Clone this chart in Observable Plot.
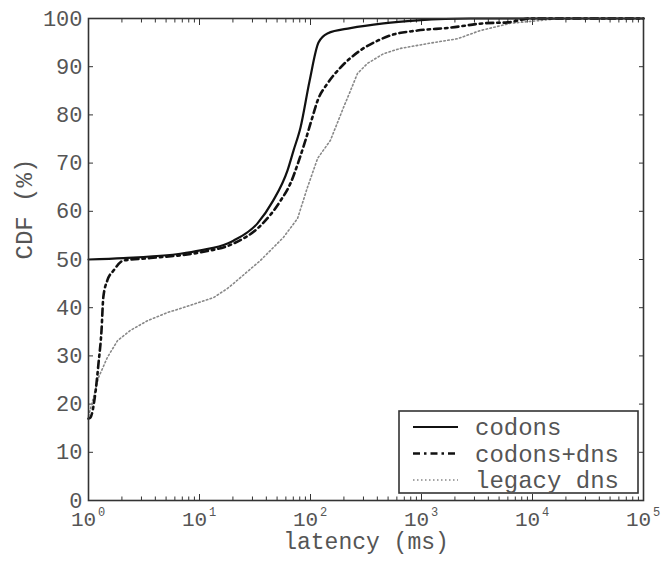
<!DOCTYPE html>
<html>
<head>
<meta charset="utf-8">
<script src="https://cdn.jsdelivr.net/npm/d3@7"></script>
<script src="https://cdn.jsdelivr.net/npm/@observablehq/plot@0.6"></script>
<style>
  html, body { margin: 0; padding: 0; background: #fff; }
  #wrap { position: relative; width: 666px; height: 563px; }
  #legend { position: absolute; left: 398px; top: 410px; }
</style>
</head>
<body>
<div id="wrap"></div>
<script>
// ---- data (latency in ms, CDF in %) ----
const codonsLatency = [1, 2.07, 6.7, 10.2, 17.9, 20.2, 33.3, 45.5, 62.1, 70.3, 81.3, 98, 118, 142, 229, 455, 920, 2760, 100000];
const codonsCdf     = [50, 50.3, 51.2, 51.9, 53.3, 53.9, 57.5, 62, 68.5, 72.6, 77.4, 87, 95, 96.9, 98, 99, 99.6, 100, 100];

const codonsDnsLatency = [1, 1.04, 1.16, 1.23, 1.31, 1.36, 1.48, 1.68, 2.07, 3.62, 10.2, 20.2, 35.4, 53.7, 66, 78, 90, 104, 116, 142, 186, 282, 402, 525, 920, 1820, 3640, 5950, 9570, 100000];
const codonsDnsCdf     = [17, 17.2, 22.8, 28.4, 35.3, 42.2, 45.7, 47.7, 49.8, 50.3, 51.5, 53.3, 57, 62.2, 65.8, 70.3, 74.7, 79.5, 83, 86.5, 89.8, 93.4, 95.4, 96.5, 97.5, 98.1, 99, 99.2, 100, 100];

const legacyLatency = [1, 1.11, 1.23, 1.48, 1.83, 2.39, 3.4, 5.15, 8.3, 13.4, 17.9, 20.2, 35.4, 57.1, 76.4, 94, 116, 151, 198, 229, 265, 327, 455, 647, 1280, 2110, 3390, 6310, 17800, 100000];
const legacyCdf     = [17.5, 21.4, 25.5, 29.7, 33.2, 35.3, 37.3, 39, 40.5, 42.1, 44, 45, 49.8, 54.6, 58.5, 65, 71, 74.7, 81.5, 85, 88.6, 90.7, 92.7, 93.8, 95, 95.8, 97.5, 99, 100, 100];

const seriesNames = ["codons", "codons+dns", "legacy dns"];
const xTickValues = [1, 10, 100, 1000, 10000, 100000];
const xTickExponents = ["0", "1", "2", "3", "4", "5"];
const yTickValues = [0, 10, 20, 30, 40, 50, 60, 70, 80, 90, 100];
const xLabel = "latency (ms)";
const yLabel = "CDF (%)";

// ---- build tables ----
const toRows = (xs, ys) => xs.map((x, i) => ({x, y: ys[i]}));
const codons = toRows(codonsLatency, codonsCdf);
const codonsDns = toRows(codonsDnsLatency, codonsDnsCdf);
const legacy = toRows(legacyLatency, legacyCdf);
const xMinor = [];
for (let e = 0; e < 5; e++) for (let m = 2; m <= 9; m++) xMinor.push(m * 10 ** e);
const xTicksRows = xTickValues.map((v, i) => ({v, e: xTickExponents[i]}));

const FONT = "'Liberation Mono', 'DejaVu Sans Mono', monospace";
const TXT = "#555";
const AX = "#333";
const noLabel = () => "";

const chart = Plot.plot({
  width: 666,
  height: 563,
  marginLeft: 88,
  marginRight: 23,
  marginTop: 18,
  marginBottom: 63,
  style: {fontFamily: FONT, fontSize: "22px", color: TXT, background: "#fff"},
  x: {type: "log", domain: [1, 100000]},
  y: {domain: [0, 100]},
  marks: [
    // inward ticks
    Plot.axisX(xTickValues, {anchor: "bottom", tickSize: -6, tickFormat: noLabel, label: null, stroke: AX}),
    Plot.axisX(xTickValues, {anchor: "top", tickSize: -6, tickFormat: noLabel, label: null, stroke: AX}),
    Plot.axisX(xMinor, {anchor: "bottom", tickSize: -3.5, tickFormat: noLabel, label: null, stroke: AX}),
    Plot.axisX(xMinor, {anchor: "top", tickSize: -3.5, tickFormat: noLabel, label: null, stroke: AX}),
    Plot.axisY(yTickValues, {anchor: "left", tickSize: -5, tickFormat: noLabel, label: null, stroke: AX}),
    Plot.axisY(yTickValues, {anchor: "right", tickSize: -5, tickFormat: noLabel, label: null, stroke: AX}),
    // y tick labels
    Plot.axisY(yTickValues, {anchor: "left", tickSize: 0, tickPadding: 6, label: null, fill: TXT, fontSize: 22}),
    Plot.text([yLabel], {frameAnchor: "left", rotate: -90, dx: -64, fill: TXT, fontSize: 24}),
    // x tick labels: "10" + superscript exponent
    Plot.text(xTicksRows, {x: "v", text: () => "10", frameAnchor: "bottom", dy: 25, dx: -5, fill: TXT, fontSize: 21}),
    Plot.text(xTicksRows, {x: "v", text: "e", frameAnchor: "bottom", dy: 15, dx: 13, fill: TXT, fontSize: 12}),
    Plot.text([xLabel], {frameAnchor: "bottom", dy: 48, fill: TXT, fontSize: 23}),
    // series
    Plot.line(legacy, {x: "x", y: "y", stroke: "#888", strokeWidth: 1.6, strokeDasharray: "1.5,2.5"}),
    Plot.line(codonsDns, {x: "x", y: "y", stroke: "#111", strokeWidth: 2.6, strokeDasharray: "7,4,2.5,4", curve: "monotone-x"}),
    Plot.line(codons, {x: "x", y: "y", stroke: "#111", strokeWidth: 2.2, curve: "monotone-x"}),
    Plot.frame({stroke: AX, strokeWidth: 1.6})
  ]
});

const wrap = document.getElementById("wrap");
wrap.appendChild(chart);

// legend
const styles = [
  {stroke: "#111", w: 2.2, dash: null},
  {stroke: "#111", w: 2.6, dash: "7,4,2.5,4"},
  {stroke: "#888", w: 1.6, dash: "1.5,2.5"}
];
const lg = d3.create("svg").attr("id", "legend").attr("width", 241).attr("height", 84);
lg.append("rect").attr("x", 1).attr("y", 1).attr("width", 239).attr("height", 82)
  .attr("fill", "#fff").attr("stroke", AX).attr("stroke-width", 1.6);
seriesNames.forEach((name, i) => {
  const cy = 17 + i * 26.5;
  lg.append("line").attr("x1", 15).attr("x2", 60).attr("y1", cy).attr("y2", cy)
    .attr("stroke", styles[i].stroke).attr("stroke-width", styles[i].w)
    .attr("stroke-dasharray", styles[i].dash);
  lg.append("text").attr("x", 77).attr("y", cy).attr("dy", "0.35em")
    .attr("font-family", FONT).attr("font-size", 24).attr("fill", TXT).text(name);
});
wrap.appendChild(lg.node());
</script>
</body>
</html>
